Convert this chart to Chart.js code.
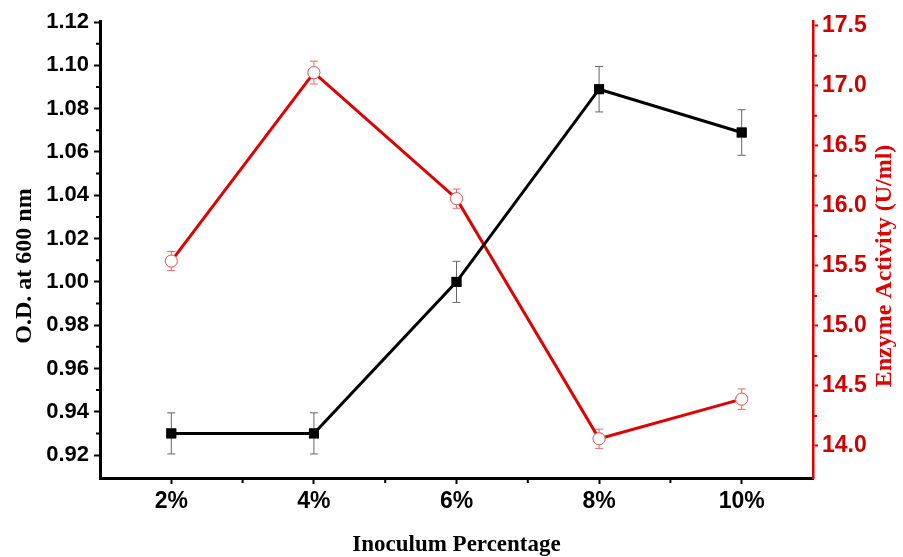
<!DOCTYPE html>
<html>
<head>
<meta charset="utf-8">
<script src="https://cdn.jsdelivr.net/npm/chart.js@4/dist/chart.umd.min.js"></script>
<style>
  html, body { margin: 0; padding: 0; background: #fff; }
  #chart { display: block; }
</style>
</head>
<body>
<canvas id="chart" width="903" height="557"></canvas>
<script>
// values
var categories = ['2%', '4%', '6%', '8%', '10%'];
var odValues = [0.930, 0.930, 1.000, 1.089, 1.069];
var odErrors = [0.0095, 0.0095, 0.0095, 0.0105, 0.0105];
var enzymeValues = [15.54, 17.11, 16.06, 14.06, 14.39];
var enzymeErrors = [0.08, 0.095, 0.08, 0.08, 0.085];
var odTicks = [0.92, 0.94, 0.96, 0.98, 1.00, 1.02, 1.04, 1.06, 1.08, 1.10, 1.12];
var enzymeTicks = [14.0, 14.5, 15.0, 15.5, 16.0, 16.5, 17.0, 17.5];

var RED = '#e00000';
var tickFamily = '"Liberation Sans", Arial, sans-serif';
var titleFamily = '"Liberation Serif", "Times New Roman", serif';

// error bars, drawn behind the markers
var errorBars = {
    id: 'errorBars',
    afterDatasetsDraw: function(chart) {
        var ctx = chart.ctx;
        var sets = [
            { idx: 0, vals: odValues, errs: odErrors, axis: 'y', color: '#666' },
            { idx: 1, vals: enzymeValues, errs: enzymeErrors, axis: 'y1', color: '#e06a6a' }
        ];
        ctx.save();
        sets.forEach(function(s) {
            var meta = chart.getDatasetMeta(s.idx);
            var scale = chart.scales[s.axis];
            ctx.strokeStyle = s.color;
            ctx.lineWidth = 1;
            meta.data.forEach(function(pt, i) {
                var yTop = scale.getPixelForValue(s.vals[i] + s.errs[i]);
                var yBot = scale.getPixelForValue(s.vals[i] - s.errs[i]);
                ctx.beginPath();
                ctx.moveTo(pt.x, yTop); ctx.lineTo(pt.x, yBot);
                ctx.moveTo(pt.x - 4, yTop); ctx.lineTo(pt.x + 4, yTop);
                ctx.moveTo(pt.x - 4, yBot); ctx.lineTo(pt.x + 4, yBot);
                ctx.stroke();
            });
            // marker on top again
            meta.data.forEach(function(pt) { pt.draw(ctx, chart.chartArea); });
        });
        ctx.restore();
    }
};

// minor ticks half way between the major ones
var minorTicks = {
    id: 'minorTicks',
    afterDraw: function(chart) {
        var ctx = chart.ctx;
        var y = chart.scales.y, y1 = chart.scales.y1, x = chart.scales.x;
        ctx.save();
        ctx.lineWidth = 2;
        ctx.strokeStyle = '#000';
        ctx.beginPath();
        for (var i = 0; i < odTicks.length - 1; i++) {
            var py = y.getPixelForValue((odTicks[i] + odTicks[i + 1]) / 2);
            ctx.moveTo(y.right - 4, py); ctx.lineTo(y.right, py);
        }
        for (var j = 0; j < categories.length - 1; j++) {
            var px = x.getPixelForValue(j + 0.5);
            ctx.moveTo(px, x.top); ctx.lineTo(px, x.top + 5);
        }
        ctx.stroke();
        ctx.strokeStyle = RED;
        ctx.beginPath();
        for (var k = 0; k < enzymeTicks.length - 1; k++) {
            var py1 = y1.getPixelForValue((enzymeTicks[k] + enzymeTicks[k + 1]) / 2);
            ctx.moveTo(y1.left, py1); ctx.lineTo(y1.left + 4, py1);
        }
        ctx.stroke();
        ctx.restore();
    }
};

// vertical axis titles, both read bottom to top
var sideTitles = {
    id: 'sideTitles',
    afterDraw: function(chart) {
        var ctx = chart.ctx;
        ctx.save();
        ctx.font = 'bold 24px ' + titleFamily;
        ctx.textAlign = 'center';
        ctx.textBaseline = 'middle';
        ctx.translate(25, 266);
        ctx.rotate(-Math.PI / 2);
        ctx.fillStyle = '#000';
        ctx.fillText('O.D. at 600 nm', 0, 0);
        ctx.restore();
        ctx.save();
        ctx.font = 'bold 24px ' + titleFamily;
        ctx.textAlign = 'center';
        ctx.textBaseline = 'middle';
        ctx.translate(885, 266);
        ctx.rotate(-Math.PI / 2);
        ctx.fillStyle = RED;
        ctx.fillText('Enzyme Activity (U/ml)', 0, 0);
        ctx.restore();
    }
};

var ctx = document.getElementById('chart').getContext('2d');
var chart = new Chart(ctx, {
    type: 'line',
    data: {
        labels: categories,
        datasets: [{
            label: 'O.D. at 600 nm',
            data: odValues,
            yAxisID: 'y',
            borderColor: '#000',
            borderWidth: 3,
            pointStyle: 'rect',
            pointRadius: 7,
            pointBackgroundColor: '#000',
            pointBorderColor: '#000',
            pointBorderWidth: 0,
            tension: 0
        }, {
            label: 'Enzyme Activity (U/ml)',
            data: enzymeValues,
            yAxisID: 'y1',
            borderColor: RED,
            borderWidth: 3,
            pointStyle: 'circle',
            pointRadius: 6,
            pointBackgroundColor: '#fff',
            pointBorderColor: '#e06a6a',
            pointBorderWidth: 1,
            tension: 0
        }]
    },
    options: {
        responsive: false,
        animation: false,
        layout: { padding: { top: 21, left: 0, right: 0, bottom: 0 } },
        plugins: {
            legend: { display: false },
            tooltip: { enabled: false }
        },
        scales: {
            x: {
                offset: true,
                grid: { display: true, drawOnChartArea: false, drawTicks: true, tickLength: 6, tickWidth: 2, tickColor: '#000', offset: false },
                border: { display: true, color: '#000', width: 3 },
                ticks: { color: '#000', font: { family: tickFamily, size: 23, weight: 'bold' }, padding: 4, maxRotation: 0 },
                title: {
                    display: true,
                    text: 'Inoculum Percentage',
                    color: '#000',
                    font: { family: titleFamily, size: 23, weight: 'bold', lineHeight: 1.0 },
                    padding: { top: 0, bottom: 0 }
                },
                afterFit: function(scale) { scale.height = 79; }
            },
            y: {
                position: 'left',
                min: 0.9094,
                max: 1.1205,
                afterBuildTicks: function(scale) {
                    scale.ticks = odTicks.map(function(v) { return { value: v }; });
                },
                grid: { display: true, drawOnChartArea: false, drawTicks: true, tickLength: 6, tickWidth: 2, tickColor: '#000' },
                border: { display: true, color: '#000', width: 3 },
                ticks: {
                    color: '#000', font: { family: tickFamily, size: 22, weight: 'bold' }, padding: 5,
                    callback: function(v) { return Number(v).toFixed(2); }
                },
                afterFit: function(scale) { scale.width = 100; }
            },
            y1: {
                position: 'right',
                min: 13.733,
                max: 17.54,
                afterBuildTicks: function(scale) {
                    scale.ticks = enzymeTicks.map(function(v) { return { value: v }; });
                },
                grid: { display: true, drawOnChartArea: false, drawTicks: true, tickLength: 5, tickWidth: 2, tickColor: RED },
                border: { display: true, color: RED, width: 2.5 },
                ticks: {
                    color: '#d00000', font: { family: tickFamily, size: 23, weight: 'bold' }, padding: 4,
                    callback: function(v) { return Number(v).toFixed(1); }
                },
                afterFit: function(scale) { scale.width = 90; }
            }
        }
    },
    plugins: [errorBars, minorTicks, sideTitles]
});
</script>
</body>
</html>
